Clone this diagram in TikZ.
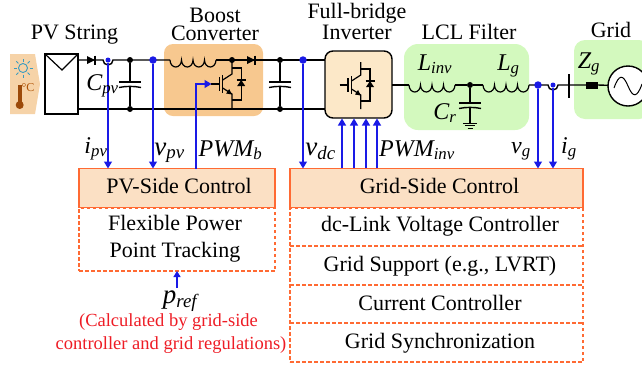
\documentclass[tikz,border=0pt]{standalone}
\usepackage{fontspec}
\setmainfont{Liberation Serif}
\usetikzlibrary{arrows.meta,calc}
\definecolor{ctrl}{HTML}{FF6A33}
\definecolor{ctrlfill}{HTML}{FBE0C4}
\definecolor{boost}{HTML}{F7C88F}
\definecolor{lclgreen}{HTML}{D3F9BE}
\definecolor{invfill}{HTML}{FCE8C8}
\definecolor{sig}{HTML}{1A1AE6}
\definecolor{note}{HTML}{EE1C25}
\definecolor{tagfill}{HTML}{F6D3A8}
\definecolor{suncol}{HTML}{3A9BC0}
\definecolor{thermo}{HTML}{9C4A0A}
\newcommand{\subt}[1]{\textsubscript{\itshape #1}}
\tikzset{
 x=1pt,y=-1pt,
 every node/.style={inner sep=0pt,outer sep=0pt,font=\fontsize{22}{26}\selectfont,text=black},
 title/.style={anchor=base,font=\fontsize{22}{22}\selectfont},
 title two/.style={anchor=base,align=center,font=\fontsize{22}{18}\selectfont},
 body/.style={anchor=base},
 wire/.style={line width=1.4pt,black},
 sig arrow/.style={line width=1.3pt,sig,-{Triangle[length=7pt,width=8pt]}},
 dot/.style={circle,fill=black,minimum size=6pt},
 bdot/.style={circle,fill=sig,minimum size=7.5pt},
 sdot/.style={circle,fill=sig,minimum size=5pt},
 head/.style={draw=ctrl,line width=1.6pt,fill=ctrlfill,minimum height=39pt,anchor=north west},
 sub box/.style={draw=ctrl,line width=1.4pt,dash pattern=on 3.5pt off 2.5pt,anchor=north west},
 sep line/.style={draw=ctrl,line width=1.4pt,dash pattern=on 3.5pt off 2.5pt},
 lab/.style={anchor=base,font=\fontsize{24}{24}\selectfont\itshape},
 vlab/.style={anchor=base,font=\fontsize{27}{27}\selectfont\itshape},
 part/.style={line width=1.2pt,black},
 plate/.style={line width=1.4pt,black},
 coil/.pic={\draw[part] (0,0) arc[start angle=180,end angle=0,x radius=5.75,y radius=7] arc[start angle=180,end angle=0,x radius=5.75,y radius=7] arc[start angle=180,end angle=0,x radius=5.75,y radius=7] arc[start angle=180,end angle=0,x radius=5.75,y radius=7];},
 cap/.pic={\draw[plate] (-11,0)--(11,0); \draw[plate] (-11,5.5) .. controls (-4,4) and (4,4) .. (11,5.5);},
 diode/.pic={\fill (-4,-4)--(-4,4)--(4,0)--cycle; \draw[part] (4,-4.5)--(4,4.5);},
}
\newcommand{\igbt}[2]{%
 \begin{scope}[shift={(#1,#2)}]
  \draw[part] (-12,0)--(-3.5,0) (-3.5,-7)--(-3.5,7);
  \draw[part] (0,-9)--(0,9);
  \draw[part] (0,-4)--(9.3,-10)--(9.3,-23);
  \draw[part] (0,4)--(9.3,10)--(9.3,24);
  \fill (9.3,10.5)--(3.5,9.5)--(6.5,5)--cycle;
  \draw[part] (9.3,-16)--(18.5,-16)--(18.5,16)--(9.3,16);
  \fill (18.5,-4)--(14.5,2)--(22.5,2)--cycle;
  \draw[part] (14,-4)--(23,-4);
 \end{scope}}
\begin{document}
\begin{tikzpicture}
\useasboundingbox (0,0) rectangle (642,365);
% backgrounds
\fill[boost,rounded corners=9pt] (164,44) rectangle (263,116);
\fill[lclgreen,rounded corners=14pt] (404,44) rectangle (529,130);
\fill[lclgreen,rounded corners=11pt] (574,40) rectangle (650,119);
% titles
\node[title] (tpv) at (74.5,39) {PV String};
\node[title two] (tboost) at (215,40) {Boost\\Converter};
\node[title two] (tinv) at (357,39) {Full-bridge\\Inverter};
\node[title] (tlcl) at (469,39) {LCL Filter};
\node[title] (tgrid) at (611,37) {Grid};
% environment tag
\fill[tagfill] (10,54)--(35,54)--(40,84)--(35,114)--(10,114)--cycle;
\begin{scope}[shift={(23,68)}]
 \draw[suncol,line width=.9pt] (0,0) circle (4.5);
 \foreach \a in {0,45,...,315}{\draw[suncol,line width=.9pt] (\a:6.5)--(\a:9.5);}
\end{scope}
\fill[thermo] (17.5,85) rectangle (21.5,102);
\fill[thermo] (19.7,105) circle (4);
\node[font=\fontsize{12}{12}\selectfont,text=thermo!80!orange] (deg) at (28,88) {°C};
% PV panel
\node[draw,line width=1.4pt,minimum width=33pt,minimum height=60pt,anchor=north west] (pv) at (45,54) {};
\draw[line width=1.2pt] (pv.north west)--(62,70)--(pv.north east);
% bus coordinates
\coordinate (tl) at (78,60);
\coordinate (bl) at (78,109);
\coordinate (tr) at (325,60);
\coordinate (br) at (325,109);
% wires
\draw[wire] (tl)--(103,60) arc[start angle=180,end angle=0,radius=5]--(170,60);
\draw[wire] (216,60)--(tr);
\draw[wire] (bl)--(br);
\pic at (91,60) {diode};
\pic at (251,60) {diode};
\pic at (170,60) {coil};
\igbt{222.7}{84}
% capacitors
\node[dot] (d1) at (130,60) {};
\node[dot] (d2) at (130,109) {};
\draw[part] (d1)--(130,82) (130,87)--(d2);
\pic at (130,82) {cap};
\node[dot] (d3) at (280,60) {};
\node[dot] (d4) at (280,109) {};
\draw[part] (d3)--(280,82) (280,87)--(d4);
\pic at (280,82) {cap};
\node[dot] (d5) at (232,60) {};
% inverter
\node[draw,line width=1.4pt,fill=invfill,rounded corners=8pt,minimum width=67pt,minimum height=67pt,anchor=north west] (inv) at (325,51) {};
\igbt{351.5}{85}
% AC side
\coordinate (acr) at (409,85);
\draw[wire] (inv.east|-acr)--(acr);
\pic at (409,85) {coil};
\pic at (483,85) {coil};
\node[dot] (d6) at (470,85) {};
\draw[wire] (455,85)--(d6)--(483,85);
\draw[part] (d6)--(470,103) (470,108)--(470,123);
\pic at (470,103) {cap};
\draw[line width=1pt] (463,123)--(477,123) (465,125.5)--(475,125.5) (467.5,128)--(472.5,128);
\draw[wire] (529,85)--(548,85) arc[start angle=180,end angle=0,radius=5]--(586,85);
\draw[line width=2.4pt] (569,74)--(569,98);
\fill (586,82) rectangle (598,89);
\node[draw,line width=1.4pt,fill=white,circle,minimum size=40pt] (src) at (628,86) {};
\draw[wire] (598,85)--(src);
\draw[line width=1pt] (614,88) .. controls (619,74) and (623,74) .. (628,86) .. controls (633,98) and (637,98) .. (642,84);
% control boxes
\node[head,minimum width=196pt] (pvc) at (79,168.5) {};
\node[sub box,minimum width=196pt,minimum height=63pt] (fp) at (79,208) {};
\node[body] (fpt1) at (175,230) {Flexible Power};
\node[body] (fpt2) at (175,257) {Point Tracking};
\node[body] (pvct) at (179,193) {PV-Side Control};
\node[head,minimum width=293pt] (gc) at (290,168.5) {};
\node[sub box,minimum width=293pt,minimum height=154pt] (gb) at (290,208) {};
\node[body] (gct) at (439.5,193) {Grid-Side Control};
\node[body] (g1) at (440,231) {dc-Link Voltage Controller};
\node[body] (g2) at (440,271) {Grid Support (e.g., LVRT)};
\node[body] (g3) at (440,310) {Current Controller};
\node[body] (g4) at (440,348) {Grid Synchronization};
\foreach \y in {246,285,323}{\draw[sep line] (gb.west|-0,\y)--(gb.east|-0,\y);}
% signals
\node[sdot] (s1) at (108,60) {};
\node[bdot] (s2) at (153,60) {};
\node[bdot] (s3) at (303,60) {};
\node[bdot] (s4) at (538,85) {};
\node[sdot] (s5) at (553,85) {};
\draw[sig arrow] (s1)--(s1|-pvc.north);
\draw[sig arrow] (s2)--(s2|-pvc.north);
\draw[sig arrow] (s3)--(s3|-gc.north);
\draw[sig arrow] (s4)--(s4|-gc.north);
\draw[sig arrow] (s5)--(s5|-gc.north);
\coordinate (pw) at (196,84);
\coordinate (gate) at (211.5,84);
\draw[sig arrow] (pw|-pvc.north)--(pw)--(gate);
\foreach \x in {342,354,366,377}{\draw[sig arrow] (\x,168)--(\x,118.5);}
% labels
\node[lab] (lc) at (102.5,90) {C\subt{pv}};
\node[lab] (li) at (96,153) {i\subt{pv}};
\node[vlab] (lv) at (169.5,155) {v\subt{pv}};
\node[lab] (lp) at (230.5,156) {PWM\subt{b}};
\node[vlab] (ldc) at (320.5,155) {v\subt{dc}};
\node[lab] (lpi) at (417,156) {PWM\subt{inv}};
\node[lab] (lL) at (435,70) {L\subt{inv}};
\node[lab] (lg) at (508.5,70) {L\subt{g}};
\node[lab] (lcr) at (445,119) {C\subt{r}};
\node[lab] (lvg) at (521,153) {v\subt{g}};
\node[lab] (lig) at (569,153) {i\subt{g}};
\node[lab] (lz) at (589,68) {Z\subt{g}};
% p ref
\node[lab,font=\fontsize{27}{27}\selectfont\itshape] (pr) at (180,303) {p\subt{ref}};
\coordinate (pa) at (177,288);
\draw[line width=1.3pt,sig,-{Triangle[length=6pt,width=7pt]}] (pa)--(fp.south-|pa);
\node[anchor=base,text=note,font=\fontsize{18.5}{20}\selectfont] (nt1) at (168.5,326) {(Calculated by grid-side};
\node[anchor=base,text=note,font=\fontsize{18.5}{20}\selectfont] (nt2) at (171,349) {controller and grid regulations)};
\end{tikzpicture}
\end{document}
